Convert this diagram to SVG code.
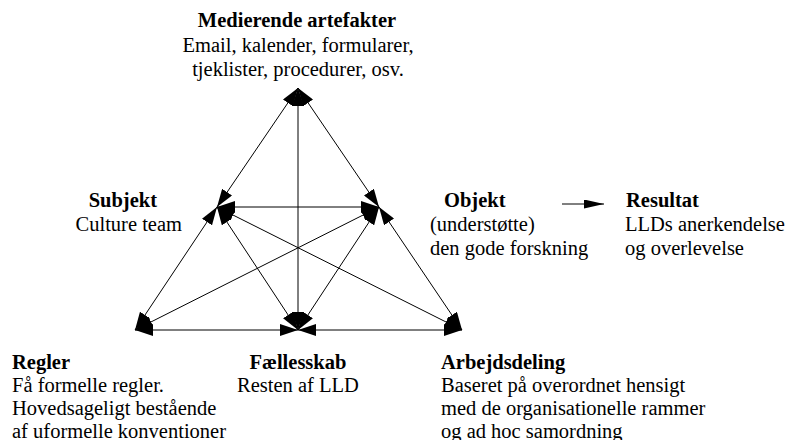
<svg xmlns="http://www.w3.org/2000/svg" width="789" height="440" viewBox="0 0 789 440">
<defs>
<marker id="ah" viewBox="0 0 18 12" refX="18" refY="6" markerWidth="18" markerHeight="12" markerUnits="userSpaceOnUse" orient="auto-start-reverse">
<path d="M0,0 L18,6 L0,12 Z" fill="#000"/>
</marker>
<marker id="sa" viewBox="0 0 20 9" refX="20" refY="4.5" markerWidth="20" markerHeight="9" markerUnits="userSpaceOnUse" orient="auto">
<path d="M0,0 L20,4.5 L0,9 Z" fill="#000"/>
</marker>
</defs>
<style>
text{font-family:"Liberation Serif","Times New Roman",Times,serif;font-size:20.5px;fill:#000}
.b{font-weight:bold}
.l{stroke:#000;stroke-width:1;fill:none}
.a{marker-end:url(#ah);marker-start:url(#ah)}
</style>
<g id="connectors">
<line class="l a" x1="298" y1="88" x2="217" y2="207"/>
<line class="l a" x1="298" y1="88" x2="379" y2="207"/>
<line class="l a" x1="298" y1="88" x2="298" y2="330"/>
<line class="l a" x1="217" y1="207" x2="379" y2="207"/>
<line class="l a" x1="217" y1="207" x2="135" y2="330"/>
<line class="l a" x1="379" y1="207" x2="462" y2="330"/>
<line class="l a" x1="217" y1="207" x2="298" y2="330"/>
<line class="l a" x1="379" y1="207" x2="298" y2="330"/>
<line class="l a" x1="217" y1="207" x2="462" y2="330"/>
<line class="l a" x1="379" y1="207" x2="135" y2="330"/>
<line class="l a" x1="135" y1="330" x2="298" y2="330"/>
<line class="l a" x1="298" y1="330" x2="462" y2="330"/>
<line class="l" x1="562" y1="204" x2="604" y2="204" style="marker-end:url(#sa)"/>
</g>
<g id="medierende">
<text class="b" x="297" y="27" text-anchor="middle">Medierende artefakter</text>
<text x="298" y="52" text-anchor="middle">Email, kalender, formularer,</text>
<text x="298" y="76" text-anchor="middle">tjeklister, procedurer, osv.</text>
</g>
<g id="subjekt">
<text class="b" x="157" y="207" text-anchor="end">Subjekt</text>
<text x="182" y="231" text-anchor="end">Culture team</text>
</g>
<g id="objekt">
<text class="b" x="444" y="207">Objekt</text>
<text x="430" y="231">(understøtte)</text>
<text x="430" y="255">den gode forskning</text>
</g>
<g id="resultat">
<text class="b" x="626" y="207">Resultat</text>
<text x="625" y="231">LLDs anerkendelse</text>
<text x="625" y="255">og overlevelse</text>
</g>
<g id="regler">
<text class="b" x="12" y="369">Regler</text>
<text x="12" y="392">Få formelle regler.</text>
<text x="12" y="415">Hovedsageligt bestående</text>
<text x="12" y="438">af uformelle konventioner</text>
</g>
<g id="faellesskab">
<text class="b" x="298" y="369" text-anchor="middle">Fællesskab</text>
<text x="298" y="392" text-anchor="middle">Resten af LLD</text>
</g>
<g id="arbejdsdeling">
<text class="b" x="441" y="369">Arbejdsdeling</text>
<text x="441" y="392">Baseret på overordnet hensigt</text>
<text x="441" y="415">med de organisationelle rammer</text>
<text x="441" y="438">og ad hoc samordning</text>
</g>
</svg>
